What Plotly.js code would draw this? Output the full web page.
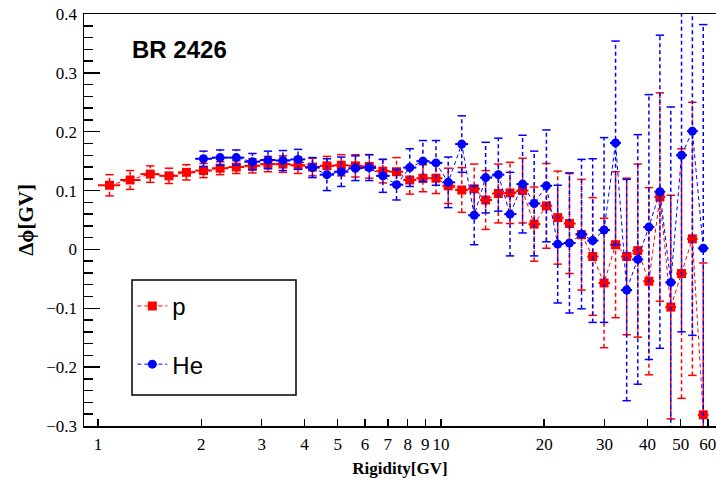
<!DOCTYPE html>
<html>
<head>
<meta charset="utf-8">
<script src="https://cdn.plot.ly/plotly-3.0.1.min.js"></script>
<style>html,body{margin:0;padding:0;background:#fff;}#chart{width:716px;height:480px;}</style>
</head>
<body>
<div id="chart"></div>
<script>
// Rigidity bin edges and centres [GV]
const binEdges = [1.00,1.16,1.33,1.51,1.71,1.92,2.15,2.40,2.67,2.97,3.29,3.64,4.02,4.43,4.88,5.37,5.90,6.47,7.09,7.76,8.48,9.26,10.1,11.0,12.0,13.0,14.1,15.3,16.6,18.0,19.5,21.1,22.8,24.7,26.7,28.8,31.1,33.5,36.1,38.9,41.9,45.1,48.5,52.2,56.1,60.3];
const rigidity = [1.08,1.24,1.42,1.61,1.81,2.03,2.27,2.53,2.82,3.13,3.46,3.83,4.22,4.65,5.12,5.63,6.18,6.77,7.42,8.11,8.86,9.67,10.5,11.5,12.5,13.5,14.7,15.9,17.3,18.7,20.3,21.9,23.7,25.7,27.7,29.9,32.3,34.8,37.5,40.4,43.5,46.8,50.3,54.1,58.2];

// proton
const pDphi = [0.109,0.118,0.128,0.125,0.131,0.134,0.138,0.140,0.142,0.145,0.145,0.143,0.140,0.142,0.143,0.142,0.141,0.133,0.132,0.118,0.121,0.121,0.108,0.101,0.103,0.084,0.095,0.096,0.100,0.043,0.074,0.054,0.044,0.025,-0.012,-0.057,0.008,-0.012,-0.002,-0.054,0.089,-0.098,-0.041,0.018,-0.281];
const pErr = [0.018,0.016,0.014,0.013,0.013,0.012,0.011,0.011,0.012,0.013,0.014,0.014,0.015,0.016,0.018,0.019,0.020,0.020,0.024,0.024,0.023,0.026,0.030,0.038,0.042,0.050,0.050,0.052,0.055,0.063,0.072,0.079,0.085,0.094,0.100,0.110,0.124,0.133,0.147,0.159,0.177,0.190,0.212,0.232,0.258];

// helium (starts at the 6th rigidity bin)
const heFirstBin = 5;
const heDphi = [0.154,0.156,0.156,0.149,0.152,0.151,0.153,0.139,0.127,0.132,0.138,0.139,0.125,0.110,0.139,0.150,0.147,0.114,0.179,0.058,0.122,0.127,0.060,0.111,0.078,0.108,0.009,0.011,0.026,0.015,0.033,0.181,-0.069,-0.017,0.038,0.098,-0.056,0.160,0.201,0.002];
const heErr = [0.013,0.013,0.013,0.014,0.015,0.017,0.017,0.017,0.027,0.025,0.021,0.022,0.028,0.026,0.032,0.035,0.038,0.043,0.048,0.050,0.060,0.062,0.071,0.083,0.089,0.095,0.100,0.119,0.127,0.139,0.157,0.173,0.188,0.212,0.225,0.266,0.298,0.300,0.347,0.380];

const xTickVals = [1,2,3,4,5,6,7,8,9,10,20,30,40,50,60];
const yTickVals = [-0.3,-0.2,-0.1,0,0.1,0.2,0.3,0.4];
const yTickText = ['\u22120.3','\u22120.2','\u22120.1','0','0.1','0.2','0.3','0.4'];

const RED = '#ff0000', BLUE = '#0000ff';

function series(first, dphi, err, name, color, symbol, size, group) {
  const x = rigidity.slice(first, first + dphi.length);
  const lo = binEdges.slice(first, first + dphi.length);
  const hi = binEdges.slice(first + 1, first + 1 + dphi.length);
  const vx = [], vy = [], cx = [], cy = [];
  x.forEach((xi, i) => {
    vx.push(xi, xi, null); vy.push(dphi[i] - err[i], dphi[i] + err[i], null);
    cx.push(xi, xi); cy.push(dphi[i] - err[i], dphi[i] + err[i]);
  });
  return [
    {x: vx, y: vy, mode: 'lines', line: {color: color, width: 1.5, dash: '4px,3px'}, showlegend: false, hoverinfo: 'skip'},
    {x: cx, y: cy, mode: 'markers', marker: {symbol: 'line-ew', size: 6, color: color, line: {color: color, width: 1.5}}, showlegend: false, hoverinfo: 'skip'},
    {x: x, y: dphi, name: name, legendgroup: group, mode: 'lines+markers',
     line: {color: color, width: 1, dash: '4px,3px'},
     marker: {symbol: symbol, size: size, color: color},
     error_x: {type: 'data', symmetric: false,
               array: hi.map((h, i) => h - x[i]), arrayminus: lo.map((l, i) => x[i] - l),
               color: color, thickness: 2, width: 0}}
  ];
}

const data = [].concat(
  series(0, pDphi, pErr, 'p', RED, 'square', 9, 'g1'),
  series(heFirstBin, heDphi, heErr, 'He', BLUE, 'circle', 9, 'g2')
);

const serif = 'Liberation Serif, Times New Roman, serif';
const sans = 'Liberation Sans, Arial, Helvetica, sans-serif';

const layout = {
  width: 716, height: 480,
  margin: {l: 84, r: 0, t: 14, b: 54},
  paper_bgcolor: '#fff', plot_bgcolor: '#fff',
  showlegend: true,
  legend: {x: 0.0765, y: 0.345, xanchor: 'left', yanchor: 'top', bgcolor: 'rgba(0,0,0,0)',
           borderwidth: 0, font: {family: sans, size: 24, color: '#000'},
           traceorder: 'grouped', tracegroupgap: 24},
  xaxis: {type: 'log', range: [Math.log10(0.91), Math.log10(63.4)],
          tickvals: xTickVals, ticktext: xTickVals.map(String),
          ticks: 'inside', ticklen: 7, tickwidth: 1.5, tickcolor: '#000',
          showline: true, linewidth: 1.5, linecolor: '#000', mirror: true,
          showgrid: false, zeroline: false, ticklabeloverflow: 'allow',
          tickfont: {family: serif, size: 17, color: '#000'}, ticklabelstandoff: 2,
          title: {text: 'Rigidity[GV]', font: {family: serif, size: 17, color: '#000', weight: 'bold'}, standoff: 9}},
  yaxis: {range: [-0.3, 0.4], tickvals: yTickVals, ticktext: yTickText,
          ticks: 'inside', ticklen: 16, tickwidth: 1.5, tickcolor: '#000',
          minor: {dtick: 0.02, ticks: 'inside', ticklen: 9, tickwidth: 1.5, tickcolor: '#000', showgrid: false},
          showline: true, linewidth: 1.5, linecolor: '#000', mirror: false,
          showgrid: false, zeroline: false,
          tickfont: {family: serif, size: 17, color: '#000'}, ticklabelstandoff: 2,
          title: {text: '\u0394\u03d5[GV]', font: {family: serif, size: 21, color: '#000', weight: 'bold'}, standoff: 7}},
  shapes: [
    {type: 'rect', xref: 'paper', yref: 'paper', x0: (132-84)/632, x1: (296-84)/632, y0: (426-395)/412, y1: (426-280)/412,
     line: {color: '#000', width: 1.5}, fillcolor: 'rgba(255,255,255,0)', layer: 'above'}
  ],
  annotations: [
    {text: 'BR 2426', xref: 'paper', yref: 'paper', x: (130-84)/632, y: (426-50)/412, xanchor: 'left', yanchor: 'middle',
     showarrow: false, font: {family: sans, size: 24, color: '#000', weight: 'bold'}}
  ]
};

Plotly.newPlot('chart', data, layout, {displayModeBar: false, staticPlot: true});
</script>
</body>
</html>
